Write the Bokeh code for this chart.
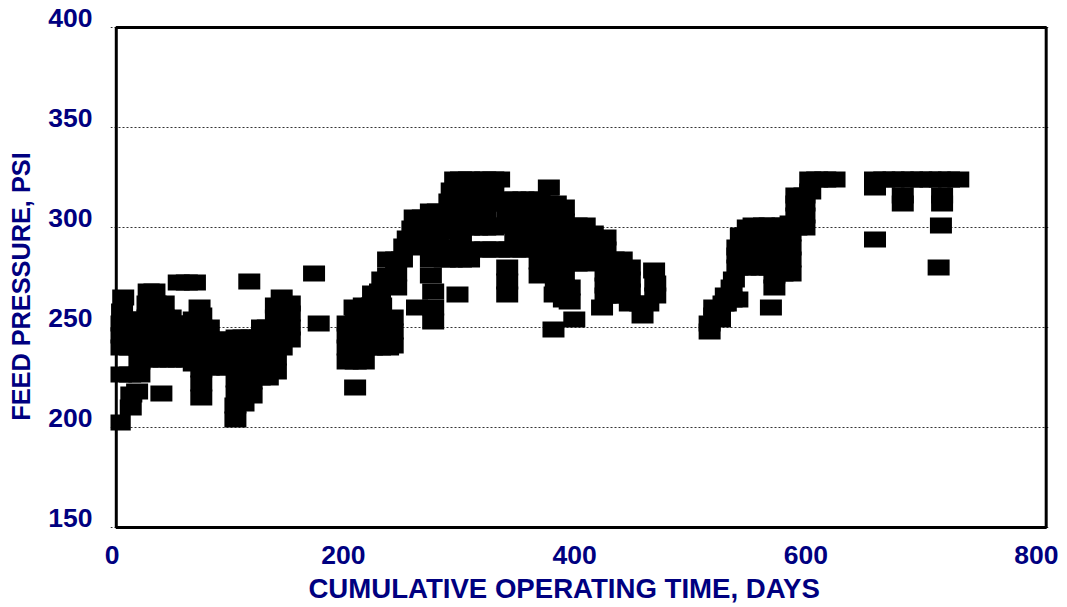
from bokeh.plotting import figure
from bokeh.models import Range1d, FixedTicker, BoxAnnotation, ColumnDataSource, LinearAxis
from bokeh.embed import file_html
from bokeh.resources import INLINE

# (day, psi) readings, grouped by operating period
period_1 = [
    (3, 202.5), (12.5, 210), (13, 216.5), (18, 218),
    (4, 226.5), (12, 226.5), (20, 226.5),
    (4, 240), (4, 246), (4, 252), (5, 258), (6, 265),
    (12, 240), (12, 247), (12, 254),
    (20, 233), (20, 240), (20, 247), (20, 254),
    (27, 234), (27, 241), (27, 248), (27, 255), (27, 262), (28, 268),
    (34, 234), (34, 241), (34, 248), (34, 255), (34, 262), (33, 268),
    (39, 217),
    (41, 234), (41, 241), (41, 248), (41, 255), (41, 262),
    (47, 234), (47, 241), (47, 248), (47, 255),
]
period_2 = [
    (54, 272.5), (61, 272.5), (68, 272.5),
    (54, 234), (54, 241), (54, 248), (54, 252),
    (61, 234), (61, 241), (61, 248), (61, 252),
    (67, 232), (67, 240), (67, 248), (67, 254),
    (73.5, 215), (73.5, 222), (73.5, 229), (73.5, 236), (73.5, 243), (73.5, 250), (73.5, 256), (72, 260),
    (80, 230), (80, 237), (80, 244), (80, 250),
    (88, 230), (88, 237), (88, 244),
    (96, 230), (96, 237), (96, 244),
    (103, 204), (103, 211), (104, 217), (104, 224), (104, 231), (104, 238), (104, 245),
    (110, 212), (110, 218), (110, 225), (110, 232), (110, 239), (110, 245),
    (115, 273),
    (117, 216), (117, 223), (117, 230), (117, 237), (117, 245),
    (124, 225), (124, 232), (124, 239), (124, 245), (126, 250),
    (131, 225), (131, 232), (131, 239), (131, 246), (131, 250),
    (138, 228), (138, 235), (138, 242), (138, 249), (138, 255), (138, 261),
    (143, 240), (143, 247), (143, 253), (143, 259), (143, 265),
    (150, 244), (150, 250), (150, 257), (150, 262),
    (171, 277), (175, 252),
]
period_3 = [
    (200, 233), (200, 240), (200, 246), (200, 252),
    (206.5, 220),
    (207, 233), (207, 240), (207, 247), (207, 254), (206, 260),
    (214, 233), (214, 240), (214, 247), (214, 254), (214, 261),
    (221, 240), (221, 247), (221, 254), (221, 261), (222, 267),
    (228, 240), (228, 247), (228, 254), (229, 261), (228, 268), (230, 274),
    (235, 240), (235, 247), (235, 276), (235, 284),
    (239, 241), (239, 248), (239, 255),
    (242, 270), (242, 277), (242, 284), (247, 284),
    (249, 290.5), (252, 294.5), (256, 299.5), (258, 305),
    (258, 292), (260, 260),
    (265, 290), (265, 298), (265, 305),
    (272, 276), (272, 284), (272, 292), (272, 300), (272, 308),
    (274, 253), (274, 260), (274, 268),
    (278, 286), (278, 294), (278, 302), (278, 308),
    (284, 284), (284, 290), (284, 298), (284, 306), (288, 313),
    (290, 284), (290, 290), (290, 298), (290, 305), (290, 312), (290, 318.5),
    (293, 324), (295, 266.5),
    (298, 284), (298, 288), (298, 294), (298, 300), (298, 306), (298, 312), (298, 318), (298, 324),
    (305, 284), (305, 289), (305, 300), (305, 306), (305, 312), (305, 318), (305, 324),
    (312, 289), (312, 300), (312, 306), (312, 312), (312, 318), (312, 324),
    (319, 289), (319, 300), (319, 306), (319, 312), (319, 318), (319, 324),
    (326, 289), (326, 300), (326, 312), (326, 318), (326, 324),
    (331, 289), (331, 301), (331, 312), (331, 324),
]
period_4 = [
    (338, 266.5), (338, 273), (338, 280), (340, 289), (338, 301), (338, 307), (338, 314),
    (345, 289), (345, 295), (345, 301), (345, 307), (345, 314),
    (352, 289), (352, 295), (352, 301), (352, 307), (352, 314),
    (359, 289), (359, 295), (359, 301), (359, 307), (359, 314),
    (366, 276), (366, 283), (366, 289), (366, 295), (366, 301), (366, 307), (366, 314),
    (373, 277), (373, 284), (373, 291), (373, 298), (373, 305), (373, 312), (374, 320),
    (378, 249), (379, 266.5),
    (380, 270), (380, 277), (380, 284), (380, 291), (380, 298), (380, 305), (380, 312),
    (387, 264), (387, 270), (387, 276), (387, 282), (387, 289), (387, 296), (387, 303), (387, 310),
    (392, 263), (392, 270), (396, 254),
    (398, 282), (398, 288), (398, 295), (398, 301),
    (405, 282), (405, 288), (405, 295), (405, 301),
    (412, 283), (412, 290), (412, 297),
    (420, 260),
    (423, 266), (423, 271), (423, 277), (423, 283), (423, 289), (423, 295),
    (430, 266), (430, 272), (430, 278), (430, 284),
    (437, 266), (437, 272), (437, 278), (437, 284),
    (444, 262), (444, 268), (444, 274), (444, 280),
    (453, 262), (455, 256), (460, 262),
    (465, 278.5), (466, 272), (466, 266),
]
period_5 = [
    (513, 248), (513, 252),
    (517, 256), (517, 260),
    (522, 254), (522, 258), (525, 262),
    (527, 262), (527, 266),
    (532, 264), (532, 270), (534, 274),
    (537, 264), (537, 280), (537, 286), (537, 290), (540, 296),
    (544, 280), (544, 285), (544, 290), (544, 296), (546, 300),
    (551, 280), (551, 285), (551, 290), (551, 297), (551, 301),
    (558, 280), (558, 285), (558, 290), (558, 297), (560, 301),
    (565, 280), (565, 285), (565, 290), (565, 297), (565, 301),
    (566, 260), (569, 270), (569, 276),
    (576, 277), (576, 283), (576, 290), (576, 297), (576, 301),
    (583, 277), (583, 284), (583, 290), (583, 297), (583, 302),
    (588, 300), (588, 306), (588, 312), (588, 316),
    (595, 300), (595, 306), (595, 312), (595, 316),
    (600, 318), (600, 324),
    (606, 324), (613, 324), (621, 324),
]
period_6 = [
    (656, 324), (664, 324), (672, 324), (680, 324), (688, 324),
    (696, 324), (704, 324), (712, 324), (720, 324), (728, 324),
    (656, 320), (680, 316), (680, 312), (714, 316), (714, 312),
    (713, 301), (656, 294), (711, 280),
]

x_ticks = [0, 200, 400, 600, 800]
y_ticks = [150, 200, 250, 300, 350, 400]
x_title = "CUMULATIVE OPERATING TIME, DAYS"
y_title = "FEED PRESSURE, PSI"

NAVY = "#000080"
FONT = "Liberation Sans"

points = period_1 + period_2 + period_3 + period_4 + period_5 + period_6
src = ColumnDataSource(dict(day=[d for d, _ in points], psi=[v for _, v in points]))

p = figure(width=1058, height=607,
           min_border_left=110, min_border_right=10, min_border_top=15, min_border_bottom=78,
           x_range=Range1d(-5, 806), y_range=Range1d(149, 406),
           output_backend="svg", toolbar_location=None)
p.outline_line_color = None
p.background_fill_color = "white"
p.border_fill_color = "white"

p.rect(x="day", y="psi", width=22, height=16, width_units="screen", height_units="screen",
       source=src, fill_color="black", line_color=None)

p.xgrid.visible = False
p.ygrid.ticker = FixedTicker(ticks=y_ticks)
p.ygrid.grid_line_color = "#333333"
p.ygrid.grid_line_dash = "2 2"
p.ygrid.grid_line_width = 1

p.add_layout(BoxAnnotation(left=0, right=804, bottom=150, top=400,
                           fill_color=None, fill_alpha=0,
                           line_color="black", line_alpha=1.0, line_width=3))

# primary axes hidden; label axes use slightly shifted ranges (labels sit above / left of ticks)
p.xaxis.visible = False
p.yaxis.visible = False
p.extra_x_ranges = {"xlab": Range1d(-1.3, 809.7)}
p.extra_y_ranges = {"ylab": Range1d(144, 401)}

xax = LinearAxis(x_range_name="xlab", ticker=FixedTicker(ticks=x_ticks))
yax = LinearAxis(y_range_name="ylab", ticker=FixedTicker(ticks=y_ticks))
for ax in (xax, yax):
    ax.axis_line_color = None
    ax.major_tick_line_color = None
    ax.minor_tick_line_color = None
    ax.major_tick_out = 0
    ax.major_tick_in = 0
    ax.major_label_text_font = FONT
    ax.major_label_text_font_style = "bold"
    ax.major_label_text_font_size = "26.5px"
    ax.major_label_text_color = NAVY
    ax.axis_label_text_font = FONT
    ax.axis_label_text_font_style = "bold"
    ax.axis_label_text_color = NAVY

xax.major_label_standoff = 16
xax.axis_label = x_title + "\u00a0" * 4   # trailing no-break spaces shift the centred title left
xax.axis_label_standoff = 6
xax.axis_label_text_font_size = "27.6px"
yax.major_label_standoff = 18
yax.axis_label = y_title + "\u00a0" * 4   # trailing no-break spaces shift the centred title down
yax.axis_label_standoff = 10
yax.axis_label_text_font_size = "25.3px"
p.add_layout(yax, "left")
p.add_layout(xax, "below")

open("out.html", "w").write(file_html(p, INLINE))
